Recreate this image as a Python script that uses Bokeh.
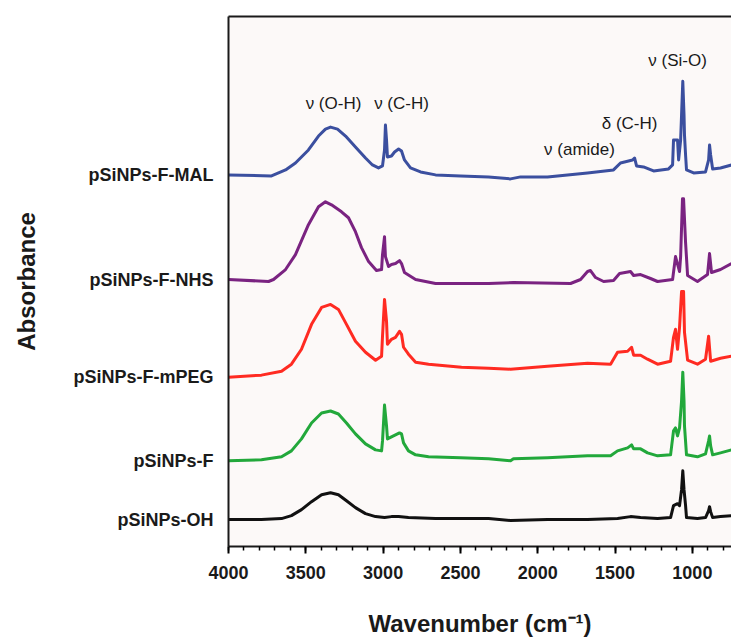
from bokeh.plotting import figure
from bokeh.models import Range1d, SingleIntervalTicker, FixedTicker, LinearAxis
from bokeh.core.properties import value
from bokeh.embed import file_html
from bokeh.resources import INLINE

# ---- data ----
names = ["pSiNPs-F-MAL", "pSiNPs-F-NHS", "pSiNPs-F-mPEG", "pSiNPs-F", "pSiNPs-OH"]
offsets = [373, 268, 170, 86, 27]
colors = ["#3b4f9f", "#7a2381", "#ff2b22", "#22a83b", "#111111"]

mal_wn = [4000, 3722, 3631, 3567, 3483, 3418, 3373, 3340, 3295, 3243, 3179, 3114, 3069, 3030, 3004,
          2991, 2985, 2978, 2972, 2946, 2926, 2900, 2881, 2862, 2823, 2758, 2661, 2499, 2318, 2176,
          2111, 1937, 1678, 1510, 1465, 1387, 1374, 1361, 1316, 1251, 1154, 1128, 1122, 1096, 1089,
          1076, 1070, 1062, 1054, 1051, 1044, 1038, 992, 915, 895, 889, 882, 869, 818, 747]
mal_ab = [0, -1, 5, 12, 25, 39, 46, 48, 46, 39, 28, 17, 10, 7, 9,
          25, 50, 35, 18, 19, 23, 26, 24, 15, 7, 3, 0, -1, -2, -4,
          -2, -2, 2, 5, 12, 15, 17, 9, 8, 4, 6, 10, 35, 35, 15,
          35, 60, 94, 60, 40, 20, 5, 2, 3, 15, 30, 20, 6, 7, 10]

nhs_wn = [4000, 3741, 3709, 3631, 3567, 3483, 3418, 3373, 3334, 3269, 3224, 3179, 3140, 3094, 3043,
          3010, 3004, 2991, 2985, 2965, 2946, 2920, 2894, 2881, 2862, 2790, 2661, 2318, 2157, 1788,
          1723, 1678, 1659, 1626, 1574, 1510, 1471, 1400, 1380, 1335, 1271, 1225, 1128, 1109, 1083,
          1076, 1064, 1057, 1044, 1031, 967, 902, 889, 876, 818, 747]
nhs_ab = [0, -2, 0, 10, 25, 55, 73, 78, 75, 68, 62, 48, 32, 18, 9,
          10, 25, 43, 23, 13, 15, 16, 19, 16, 7, 0, -4, -4, -3, -4,
          0, 8, 9, 2, -2, -1, 6, 8, 4, 5, 1, -2, 0, 23, 8,
          23, 81, 81, 37, 4, -2, 5, 26, 7, 10, 16]

peg_wn = [4000, 3787, 3657, 3593, 3528, 3463, 3398, 3340, 3289, 3237, 3179, 3114, 3049, 3010, 3004,
          2991, 2978, 2972, 2946, 2920, 2894, 2881, 2868, 2836, 2790, 2706, 2493, 2318, 2176, 1937,
          1678, 1529, 1484, 1419, 1393, 1380, 1335, 1290, 1225, 1141, 1122, 1109, 1096, 1083, 1070,
          1057, 1051, 1031, 967, 915, 895, 882, 818, 747]
peg_ab = [0, 2, 6, 13, 28, 53, 70, 73, 68, 53, 36, 25, 17, 21, 41,
          78, 56, 33, 38, 40, 46, 43, 30, 23, 15, 13, 10, 9, 8, 11,
          14, 13, 25, 26, 30, 22, 22, 18, 13, 16, 40, 48, 28, 50, 86,
          86, 45, 17, 13, 18, 41, 16, 19, 21]

f_wn = [4000, 3787, 3657, 3593, 3528, 3463, 3398, 3340, 3289, 3237, 3179, 3114, 3049, 3010, 3004,
        2991, 2978, 2972, 2946, 2920, 2894, 2881, 2868, 2836, 2790, 2706, 2499, 2318, 2176, 2157,
        1937, 1678, 1529, 1484, 1419, 1393, 1380, 1335, 1290, 1225, 1141, 1122, 1109, 1096, 1083,
        1070, 1062, 1054, 1051, 1038, 967, 915, 895, 889, 882, 869, 818, 747]
f_ab = [0, 1, 4, 10, 22, 38, 48, 50, 47, 38, 27, 17, 11, 10, 20,
        56, 35, 22, 24, 26, 28, 27, 18, 10, 6, 4, 3, 2, 0, 2,
        3, 5, 5, 10, 13, 16, 12, 12, 8, 5, 6, 30, 33, 25, 33,
        60, 89, 60, 35, 6, 4, 7, 20, 25, 15, 6, 8, 11]

oh_wn = [4000, 3787, 3657, 3593, 3528, 3463, 3398, 3340, 3289, 3237, 3179, 3114, 3049, 2991, 2946,
         2900, 2836, 2661, 2318, 2176, 1937, 1678, 1484, 1400, 1335, 1225, 1141, 1122, 1096, 1083,
         1070, 1062, 1054, 1044, 1038, 967, 915, 895, 889, 882, 869, 818, 747]
oh_ab = [0, 0, 1, 4, 10, 18, 25, 27, 25, 19, 12, 6, 3, 2, 3,
         3, 2, 1, 1, -1, 0, 0, 1, 3, 2, 1, 2, 14, 16, 14,
         30, 49, 30, 14, 2, 1, 2, 9, 13, 8, 2, 3, 4]

spectra_wn = [mal_wn, nhs_wn, peg_wn, f_wn, oh_wn]
spectra_ab = [mal_ab, nhs_ab, peg_ab, f_ab, oh_ab]

x_ticks_step = 500
ann_text = ["\u03bd (O-H)", "\u03bd (C-H)", "\u03bd (amide)", "\u03b4 (C-H)", "\u03bd (Si-O)"]
ann_wn = [3321, 2881, 1730, 1406, 1096]
ann_y = [445, 445, 398, 425, 488]

FONT = "Liberation Sans"

p = figure(width=731, height=639, output_backend="svg", toolbar_location=None,
           x_range=Range1d(4000, 747), y_range=Range1d(0, 532),
           min_border_left=228, min_border_right=0, min_border_top=16, min_border_bottom=91,
           x_axis_label="Wavenumber (cm\u207b\u00b9)", y_axis_label="Absorbance")
p.background_fill_color = "#fcf9f8"
p.border_fill_color = "#ffffff"
p.outline_line_color = None
p.grid.visible = False

xa = p.xaxis[0]
xa.ticker = SingleIntervalTicker(interval=x_ticks_step, num_minor_ticks=5)
xa.axis_line_width = 2
xa.axis_line_color = "#1a1a1a"
xa.major_tick_line_width = 2
xa.major_tick_out = 7
xa.major_tick_in = 0
xa.minor_tick_out = 4
xa.minor_tick_in = 0
xa.minor_tick_line_width = 1.5
xa.major_label_standoff = 12
xa.major_label_text_font = FONT
xa.major_label_text_font_style = "bold"
xa.major_label_text_font_size = "18px"
xa.major_label_text_color = "#1a1a1a"
xa.axis_label_text_font = FONT
xa.axis_label_text_font_style = "bold"
xa.axis_label_text_font_size = "24px"
xa.axis_label_text_color = "#1a1a1a"
xa.axis_label_standoff = 28

ya = p.yaxis[0]
ya.ticker = FixedTicker(ticks=offsets, minor_ticks=[])
ya.major_label_overrides = {o: n for o, n in zip(offsets, names)}
ya.axis_line_width = 2
ya.axis_line_color = "#1a1a1a"
ya.major_tick_out = 0
ya.major_tick_in = 0
ya.minor_tick_out = 0
ya.minor_tick_in = 0
ya.major_label_standoff = 15
ya.major_label_text_font = FONT
ya.major_label_text_font_style = "bold"
ya.major_label_text_font_size = "18px"
ya.major_label_text_color = "#1a1a1a"
ya.axis_label_text_font = FONT
ya.axis_label_text_font_style = "bold"
ya.axis_label_text_font_size = "24px"
ya.axis_label_text_color = "#1a1a1a"
ya.axis_label_standoff = 30

top = LinearAxis(ticker=FixedTicker(ticks=[]), major_label_text_font_size="0px",
                 axis_line_width=2, axis_line_color="#1a1a1a",
                 major_tick_out=0, major_tick_in=0, minor_tick_out=0, minor_tick_in=0)
p.add_layout(top, "above")

for wn, ab, off, col in zip(spectra_wn, spectra_ab, offsets, colors):
    p.line(wn, [a + off for a in ab], line_color=col, line_width=3, line_join="round")

p.text(x=ann_wn, y=ann_y, text=ann_text, text_font=value(FONT), text_font_size="17px",
       text_align="center", text_baseline="middle", text_color="#1a1a1a")

open("out.html", "w", encoding="utf-8").write(file_html(p, INLINE))
